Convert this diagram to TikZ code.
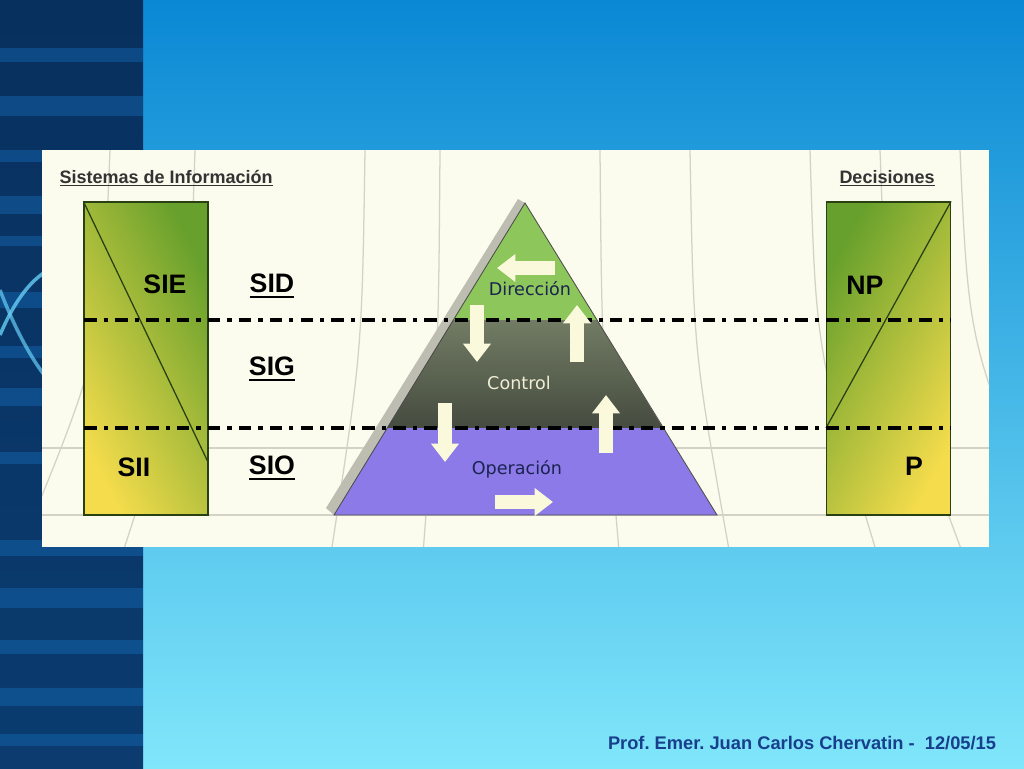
\documentclass[tikz,border=0pt]{standalone}
\usepackage{fontspec}
\setmainfont{Liberation Sans}
\newfontfamily\pyrfont{DejaVu Sans}
\usepackage{tikz}
\usetikzlibrary{arrows.meta,positioning,calc}
\definecolor{SlideTop}{HTML}{0A88D4}
\definecolor{SlideBot}{HTML}{80E6FA}
\definecolor{StripDark}{HTML}{08305E}
\definecolor{StripBand}{HTML}{1569B5}
\definecolor{PanelCream}{HTML}{FBFBEE}
\definecolor{GridGray}{HTML}{D2D2C6}
\definecolor{BoxYellow}{HTML}{F4DC4C}
\definecolor{BoxGreen}{HTML}{67A02C}
\definecolor{PyrGreen}{HTML}{8DC65A}
\definecolor{PyrDarkTop}{HTML}{727C64}
\definecolor{PyrDarkBot}{HTML}{454B3F}
\definecolor{PyrPurple}{HTML}{8C7AE8}
\definecolor{ArrowCream}{HTML}{FBF9DC}
\definecolor{LabelNavy}{HTML}{1B2350}
\definecolor{FootBlue}{HTML}{173F8C}
\newcommand{\thickul}[1]{\setbox0\hbox{#1}\rlap{\rule[-4pt]{\wd0}{1.7pt}}\box0}
\frenchspacing

\begin{document}
\begin{tikzpicture}[x=0.25mm, y=-0.25mm,
  lvl/.style={font=\fontsize{19}{22}\selectfont\bfseries, text=black, inner sep=1pt},
  head/.style={font=\fontsize{12.8}{14}\selectfont\bfseries, text=black!80, inner sep=1pt},
  pyr/.style={font=\pyrfont\fontsize{12.5}{14}\selectfont, inner sep=1pt},
  sbox/.style={draw=black!60!BoxGreen, line width=0.8pt, minimum width=31mm, minimum height=78.25mm,
               inner sep=0pt, bottom color=BoxYellow, top color=BoxGreen},
  sep/.style={line width=2.3pt, dash pattern=on 9pt off 5pt on 3pt off 5pt},
  blk/.style={ArrowCream, line width=10pt, -{Triangle[width=19pt,length=13pt]}},
  grid/.style={GridGray, line width=0.9pt}]
\useasboundingbox (0,0) rectangle (1024,768);
% slide background
\shade[top color=SlideTop, bottom color=SlideBot] (0,0) rectangle (1024,768);
\shade[top color=StripDark, bottom color=StripDark!80!StripBand] (0,0) rectangle (143,768);
\foreach \y/\h in {48/14,96/20,150/12,196/18,236/10,292/16,346/12,388/18,452/12,540/16,588/20,640/14,688/18,734/12}
  \fill[StripBand, opacity=0.45] (0,\y) rectangle (143,\y+\h);
\draw[cyan!60, line width=2.5pt, opacity=0.8] (0,335) .. controls (40,240) and (95,250) .. (143,300);
\draw[cyan!60, line width=2.5pt, opacity=0.7] (0,290) .. controls (50,420) and (110,440) .. (143,385);

% panel with faint grid
\fill[PanelCream] (42,150) rectangle (989,547);
\begin{scope}
\clip (42,150) rectangle (989,547);
\foreach \x in {110,195,365,440,600,690,810,880,960}
  \draw[grid] (\x,150) .. controls ({\x+(\x-515)*0.02},350) .. ({\x+(\x-515)*0.22},547);
\draw[grid] (42,448) -- (989,448);
\draw[grid] (42,515) -- (989,515);
\end{scope}

\node[head, anchor=west] (sisinfo) at (58,178) {\underline{Sistemas de Información}};
\node[head] (decis) at (887,178) {\underline{Decisiones}};

% information systems and decisions
\node[sbox, shading angle=-62] (sysbox) at (146,358.5) {};
\node[sbox, shading angle=62] (decbox) at (888.5,358.5) {};
\draw[black!60!BoxGreen, line width=0.9pt] (sysbox.north west) -- (208,462);
\draw[black!60!BoxGreen, line width=0.9pt] (decbox.north east) -- (826,428);

% pyramid
\fill[GridGray!90!black] (518,199) -- (525,203) -- (334,515) -- (326,508) -- cycle;
\fill[PyrGreen] (525,203) -- (597,320) -- (453,320) -- cycle;
\shade[top color=PyrDarkTop, bottom color=PyrDarkBot] (453,320) -- (597,320) -- (663,428) -- (387,428) -- cycle;
\fill[PyrPurple] (387,428) -- (663,428) -- (717,515) -- (334,515) -- cycle;
\draw[black!70, line width=0.6pt] (525,203) -- (717,515) -- (334,515) -- cycle;

\draw[sep] (84,320) -- (951,320);
\draw[sep] (84,428) -- (951,428);

% flows inside the pyramid
\draw[blk] (555,268) -- (497,268);
\draw[blk] (477,305) -- (477,362);
\draw[blk] (577,362) -- (577,305);
\draw[blk] (445,403) -- (445,462);
\draw[blk] (606,453) -- (606,395);
\draw[blk] (495,502) -- (553,502);

\node[pyr, text=LabelNavy] (direc) at (530,289) {Dirección};
\node[pyr, text=ArrowCream!90!gray] (contr) at (519,383) {Control};
\node[pyr, text=LabelNavy] (operac) at (517,469) {Operación};

\node[lvl] (sie) at (165,284) {SIE};
\node[lvl] (sii) at (134,467) {SII};
\node[lvl] (np) at (865,285) {NP};
\node[lvl] (pp) at (914,466) {P};
\node[lvl] (sid) at (272,286) {\thickul{SID}};
\node[lvl] (sig) at (272,369) {\thickul{SIG}};
\node[lvl] (sio) at (272,468) {\thickul{SIO}};

\node[font=\fontsize{13}{15}\selectfont\bfseries, text=FootBlue, anchor=east] (footer) at (1001,743)
  {Prof. Emer. Juan Carlos Chervatin -\ \ 12/05/15};
\end{tikzpicture}
\end{document}
